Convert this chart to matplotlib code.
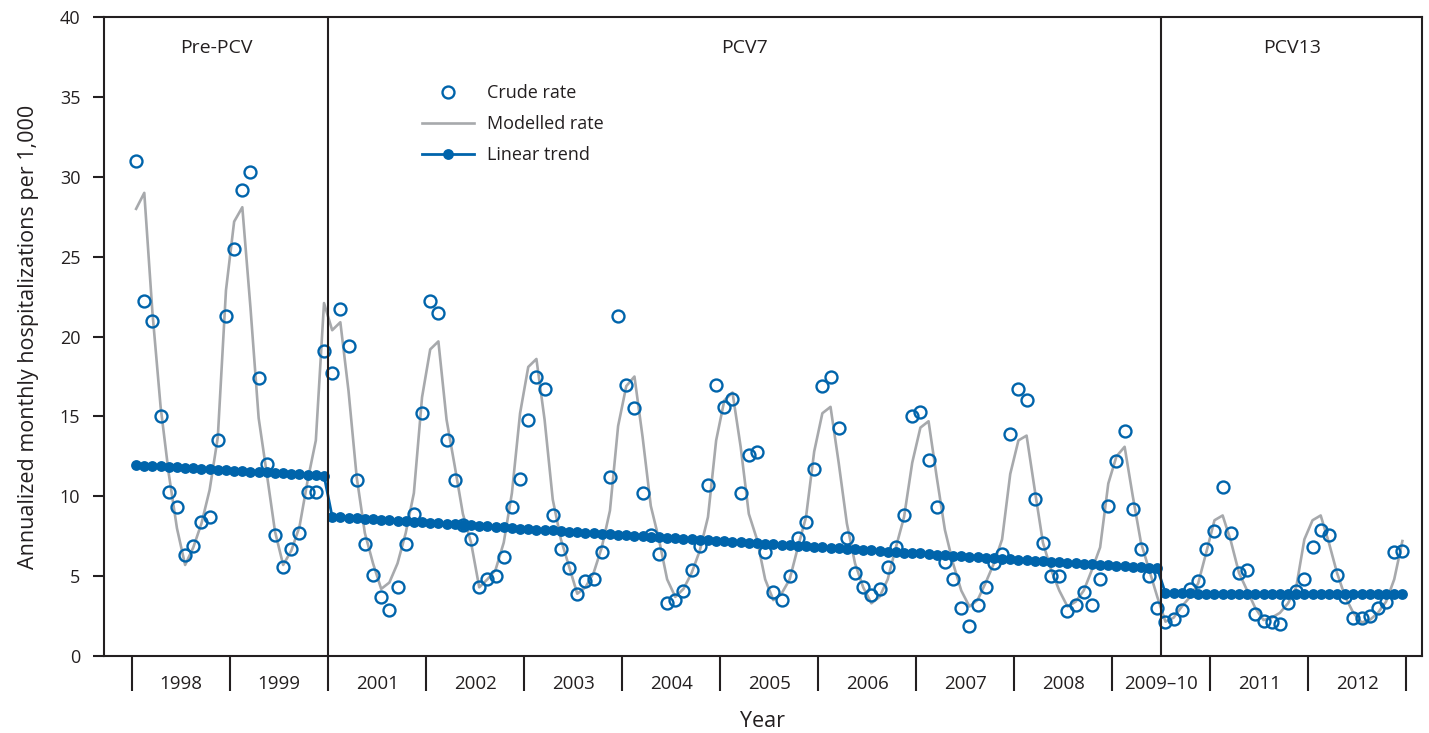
import matplotlib
matplotlib.use("Agg")
import matplotlib.pyplot as plt
from matplotlib.ticker import FixedLocator, NullFormatter, FixedFormatter
from matplotlib.lines import Line2D

plt.rcParams['font.family'] = ['Open Sans', 'DejaVu Sans']

# ---------------- data ----------------
year_labels = ['1998', '1999', '2001', '2002', '2003', '2004', '2005',
               '2006', '2007', '2008', '2009\u201310', '2011', '2012']
period_labels = ['Pre-PCV', 'PCV7', 'PCV13']
period_bounds = [0, 24, 126, 156]   # month index boundaries of periods

crude_rate = [
    # Pre-PCV (24 months)
    31.0, 22.2, 21.0, 15.0, 10.3, 9.3, 6.3, 6.9, 8.4, 8.7, 13.5, 21.3,
    25.5, 29.2, 30.3, 17.4, 12.0, 7.6, 5.6, 6.7, 7.7, 10.3, 10.3, 19.1,
    # PCV7 (102 months)
    17.7, 21.7, 19.4, 11.0, 7.0, 5.1, 3.7, 2.9, 4.3, 7.0, 8.9, 15.2,
    22.2, 21.5, 13.5, 11.0, 8.2, 7.3, 4.3, 4.8, 5.0, 6.2, 9.3, 11.1,
    14.8, 17.5, 16.7, 8.8, 6.7, 5.5, 3.9, 4.7, 4.8, 6.5, 11.2, 21.3,
    17.0, 15.5, 10.2, 7.6, 6.4, 3.3, 3.5, 4.1, 5.4, 6.9, 10.7, 17.0,
    15.6, 16.1, 10.2, 12.6, 12.8, 6.5, 4.0, 3.5, 5.0, 7.4, 8.4, 11.7,
    16.9, 17.5, 14.3, 7.4, 5.2, 4.3, 3.8, 4.2, 5.6, 6.8, 8.8, 15.0,
    15.3, 12.3, 9.3, 5.9, 4.8, 3.0, 1.9, 3.2, 4.3, 5.8, 6.4, 13.9,
    16.7, 16.0, 9.8, 7.1, 5.0, 5.0, 2.8, 3.2, 4.0, 3.2, 4.8, 9.4,
    12.2, 14.1, 9.2, 6.7, 5.0, 3.0,
    # PCV13 (30 months)
    2.1, 2.3, 2.9, 4.2, 4.7, 6.7, 7.8, 10.6, 7.7, 5.2, 5.4, 2.6,
    2.2, 2.1, 2.0, 3.3, 4.1, 4.8, 6.8, 7.9, 7.6, 5.1, 3.7, 2.4,
    2.4, 2.5, 3.0, 3.4, 6.5, 6.6,
]

modelled_rate = [
    # Pre-PCV
    28.0, 29.0, 21.5, 15.6, 11.4, 8.0, 5.7, 6.8, 8.3, 10.4, 13.7, 22.9,
    27.2, 28.1, 21.8, 14.9, 11.4, 7.8, 5.7, 6.6, 8.1, 11.0, 13.5, 22.1,
    # PCV7
    20.4, 20.9, 16.6, 11.2, 7.7, 5.8, 4.2, 4.6, 5.8, 7.7, 10.2, 16.2,
    19.2, 19.7, 14.8, 11.9, 8.9, 7.1, 4.3, 4.8, 5.4, 7.1, 10.2, 15.2,
    18.1, 18.6, 14.8, 9.8, 7.3, 5.6, 3.9, 4.3, 5.2, 6.8, 9.1, 14.4,
    16.9, 17.5, 13.7, 9.4, 7.3, 4.8, 3.7, 4.2, 5.2, 6.6, 8.7, 13.5,
    16.0, 16.5, 13.1, 8.9, 7.3, 4.8, 3.5, 3.9, 4.8, 6.8, 8.7, 12.8,
    15.2, 15.6, 12.1, 8.3, 5.8, 4.3, 3.3, 3.7, 4.8, 6.8, 8.7, 12.1,
    14.3, 14.7, 11.2, 7.9, 5.8, 4.1, 3.1, 3.5, 4.6, 5.8, 7.3, 11.4,
    13.5, 13.8, 10.4, 7.1, 5.4, 4.1, 3.1, 3.4, 4.1, 5.4, 6.8, 10.8,
    12.5, 13.1, 10.0, 7.1, 5.4, 3.7,
    # PCV13
    2.15, 2.4, 3.1, 3.7, 4.55, 6.5, 8.5, 8.8, 7.2, 5.2, 4.1, 3.0,
    2.25, 2.4, 2.7, 3.3, 4.3, 7.3, 8.5, 8.8, 7.1, 5.2, 3.7, 2.7,
    2.1, 2.25, 2.7, 3.4, 4.8, 7.2,
]

linear_trend = [
    # Pre-PCV
    11.95, 11.92, 11.89, 11.87, 11.84, 11.81, 11.78, 11.75, 11.72, 11.70,
    11.67, 11.64, 11.61, 11.58, 11.55, 11.53, 11.50, 11.47, 11.44, 11.41,
    11.38, 11.36, 11.33, 11.30,
    # PCV7
    8.72, 8.69, 8.66, 8.62, 8.59, 8.56, 8.53, 8.50, 8.46, 8.43,
    8.40, 8.37, 8.34, 8.30, 8.27, 8.24, 8.21, 8.18, 8.14, 8.11,
    8.08, 8.05, 8.02, 7.98, 7.95, 7.92, 7.89, 7.86, 7.82, 7.79,
    7.76, 7.73, 7.70, 7.66, 7.63, 7.60, 7.57, 7.54, 7.50, 7.47,
    7.44, 7.41, 7.38, 7.34, 7.31, 7.28, 7.25, 7.22, 7.18, 7.15,
    7.12, 7.09, 7.06, 7.02, 6.99, 6.96, 6.93, 6.90, 6.86, 6.83,
    6.80, 6.77, 6.74, 6.70, 6.67, 6.64, 6.61, 6.58, 6.54, 6.51,
    6.48, 6.45, 6.42, 6.38, 6.35, 6.32, 6.29, 6.26, 6.22, 6.19,
    6.16, 6.13, 6.10, 6.06, 6.03, 6.00, 5.97, 5.94, 5.90, 5.87,
    5.84, 5.81, 5.78, 5.74, 5.71, 5.68, 5.65, 5.62, 5.58, 5.55,
    5.52, 5.49,
    # PCV13
    3.92, 3.92, 3.92, 3.92, 3.91, 3.91, 3.91, 3.91, 3.91, 3.91,
    3.90, 3.90, 3.90, 3.90, 3.90, 3.90, 3.90, 3.90, 3.90, 3.89,
    3.89, 3.89, 3.89, 3.89, 3.89, 3.88, 3.88, 3.88, 3.88, 3.88,
]

months = [i + 0.5 for i in range(len(crude_rate))]

# ---------------- style ----------------
BLUE = '#0064ab'
GRAY = '#a7a9ac'
DARK = '#231f20'

W, H = 1429, 733
fig = plt.figure(figsize=(W / 100, H / 100), dpi=100)
ax = fig.add_axes([104 / W, 1 - 656 / H, (1422 - 104) / W, (656 - 17.2) / H])

ax.plot(months, modelled_rate, color=GRAY, lw=1.9, zorder=2,
        label='Modelled rate')
ax.plot(months, linear_trend, color=BLUE, lw=2.0, marker='o', ms=7.8,
        markeredgewidth=0, zorder=3, label='Linear trend')
ax.plot(months, crude_rate, linestyle='none', marker='o', ms=8.6,
        markerfacecolor='none', markeredgecolor=BLUE, markeredgewidth=1.7,
        zorder=4, label='Crude rate')

# period dividers
for b in period_bounds[1:-1]:
    ax.axvline(b, color=DARK, lw=1.5, zorder=5)

ax.set_xlim(-3.43, 157.9)
ax.set_ylim(0, 40)

# period labels centred in each panel
x0, x1 = ax.get_xlim()
edges = [x0] + period_bounds[1:-1] + [x1]
for lab, a, b in zip(period_labels, edges[:-1], edges[1:]):
    ax.text((a + b) / 2, 38.05, lab, ha='center', va='center',
            fontsize=14, color=DARK)

# y axis
ax.set_yticks(range(0, 41, 5))
ax.tick_params(axis='y', direction='out', length=8, width=1.5, pad=9,
               labelsize=13, colors=DARK, labelcolor=DARK)
ax.set_ylabel('Annualized monthly hospitalizations per 1,000',
              fontsize=15.5, color=DARK, labelpad=15)

# x axis: year boundaries as long ticks, labels centred between them
ax.xaxis.set_major_locator(FixedLocator(range(0, 157, 12)))
ax.xaxis.set_major_formatter(NullFormatter())
ax.xaxis.set_minor_locator(FixedLocator([6 + 12 * k for k in range(13)]))
ax.xaxis.set_minor_formatter(FixedFormatter(year_labels))
ax.tick_params(axis='x', which='major', direction='out', length=25,
               width=1.5, color=DARK)
ax.tick_params(axis='x', which='minor', length=0, pad=14, labelsize=13.5,
               labelcolor=DARK)
ax.set_xlabel('Year', fontsize=15.5, color=DARK, labelpad=11)

for s in ax.spines.values():
    s.set_color(DARK)
    s.set_linewidth(1.5)

# legend
h_crude = Line2D([], [], linestyle='none', marker='o', ms=8.6,
                 markerfacecolor='none', markeredgecolor=BLUE,
                 markeredgewidth=1.7)
h_mod = Line2D([], [], color=GRAY, lw=1.9)
h_trend = Line2D([], [], color=BLUE, lw=2.0, marker='o', ms=7.8,
                 markeredgewidth=0)
ax.legend([h_crude, h_mod, h_trend], ['Crude rate', 'Modelled rate', 'Linear trend'],
          loc='upper left', bbox_to_anchor=(0.2413, 0.895), frameon=False,
          fontsize=13, handlelength=2.9, handletextpad=0.7,
          labelspacing=0.72, borderpad=0, borderaxespad=0,
          labelcolor=DARK)

fig.savefig('out.png', dpi=100)
